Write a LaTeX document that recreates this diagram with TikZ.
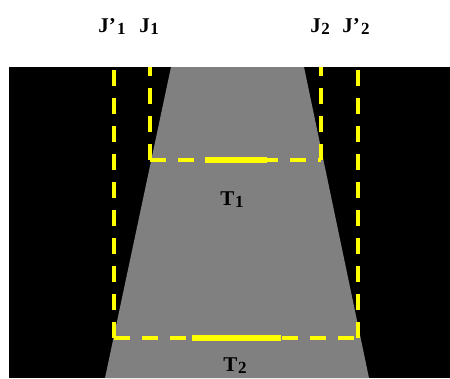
\documentclass[tikz,border=0pt]{standalone}
\usepackage{fontspec}
\setmainfont{Liberation Serif}
\definecolor{roadgray}{HTML}{808080}
\definecolor{lineyellow}{HTML}{FFFF00}
\newcommand\lsub[1]{\kern0.5pt\raisebox{-0.3ex}{\fontsize{17}{17}\selectfont #1}}
\tikzset{
  lbl/.style={font=\fontsize{21}{21}\selectfont\bfseries, inner sep=0pt, anchor=base},
  yd/.style={draw=lineyellow, line width=4pt, dash pattern=on 16pt off 12pt},
  ys/.style={draw=lineyellow, line width=6pt},
}
\begin{document}
\begin{tikzpicture}[x=1pt,y=-1pt]
\useasboundingbox (0,0) rectangle (450,378);
\fill[white] (0,0) rectangle (450,378);
\fill[black] (9,67) rectangle (450,378);
\fill[roadgray] (171,67) -- (304,67) -- (369,378) -- (105,378) -- cycle;
% upper rectangle (J1-J2)
\coordinate (u1) at (150,160);
\coordinate (u2) at (321,160);
\coordinate (u1t) at (150,67);
\coordinate (u2t) at (321,67);
\draw[yd] (u1) -- (u1t);
\draw[yd] (u2) -- (u2t);
\draw[yd] (u1) -- (u2);
\draw[ys] (205,160) -- (267,160);
% lower rectangle (J'1-J'2)
\coordinate (l1) at (114,338);
\coordinate (l2) at (358,338);
\coordinate (l1t) at (114,67);
\coordinate (l2t) at (358,67);
\draw[yd] (l1) -- (l1t);
\draw[yd] (l2) -- (l2t);
\draw[yd] (l1) -- (l2);
\draw[ys] (192,338) -- (281,338);
% labels
\node[lbl] (jp1) at (112,32) {J’\kern1pt\lsub{1}};
\node[lbl] (j1) at (149,32) {J\lsub{1}};
\node[lbl] (j2) at (320,32) {J\lsub{2}};
\node[lbl] (jp2) at (356,32) {J’\kern1pt\lsub{2}};
\node[lbl] (t1) at (232,205) {T\lsub{1}};
\node[lbl] (t2) at (235,371) {T\lsub{2}};
\end{tikzpicture}
\end{document}
